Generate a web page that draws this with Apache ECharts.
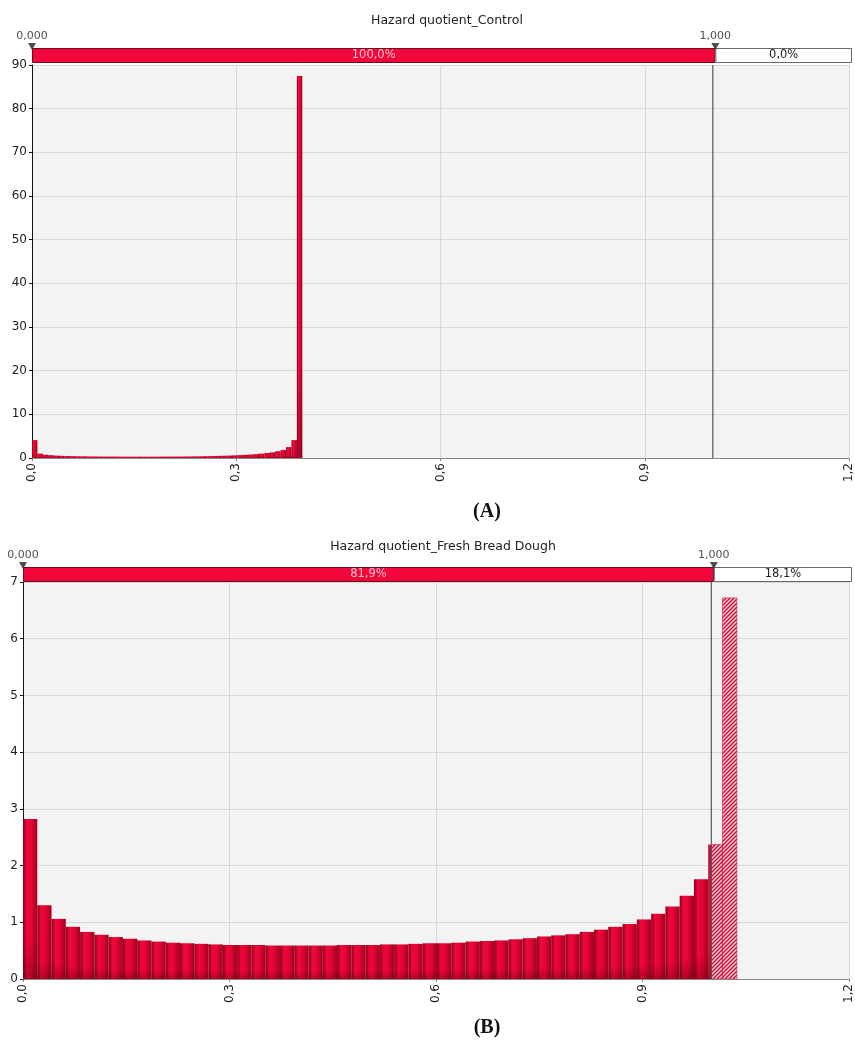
<!DOCTYPE html>
<html><head><meta charset="utf-8">
<script src="https://cdn.jsdelivr.net/npm/echarts@6/dist/echarts.min.js"></script>
<style>html,body{margin:0;padding:0;background:#fff}#c{width:855px;height:1040px}</style>
</head><body><div id="c"></div>
<script>
// ---------- DATA ----------
const xTicks = [0, 0.3, 0.6, 0.9, 1.2];
const titleA = 'Hazard quotient_Control';
const thresholdA = 1.0;
const pctBelowA = 100.0;
const pctAboveA = 0.0;
const binWidthA = 0.00794;
const valuesA = [4.1, 1.0, 0.75, 0.65, 0.55, 0.5, 0.45, 0.42, 0.4, 0.38,
  0.36, 0.35, 0.34, 0.33, 0.33, 0.32, 0.32, 0.31, 0.31, 0.31,
  0.31, 0.31, 0.31, 0.32, 0.32, 0.33, 0.33, 0.34, 0.35, 0.36,
  0.38, 0.40, 0.42, 0.45, 0.48, 0.52, 0.56, 0.6, 0.66, 0.72,
  0.8, 0.9, 1.0, 1.15, 1.3, 1.55, 1.85, 2.5, 4.1, 87.5];
const yMaxA = 90, yStepA = 10;

const titleB = 'Hazard quotient_Fresh Bread Dough';
const thresholdB = 1.0;
const pctBelowB = 81.9;
const pctAboveB = 18.1;
const binWidthB = 0.02074;
const valuesB = [2.82, 1.30, 1.06, 0.92, 0.83, 0.78, 0.74, 0.71, 0.68, 0.66,
  0.64, 0.63, 0.62, 0.61, 0.60, 0.60, 0.60, 0.59, 0.59, 0.59,
  0.59, 0.59, 0.60, 0.60, 0.60, 0.61, 0.61, 0.62, 0.63, 0.63,
  0.64, 0.66, 0.67, 0.68, 0.70, 0.72, 0.75, 0.77, 0.79, 0.83,
  0.87, 0.92, 0.97, 1.05, 1.15, 1.28, 1.47, 1.76, 2.37, 6.72];
const yMaxB = 7, yStepB = 1;
const xMax = 1.2;

// ---------- HELPERS ----------
const FONT = "'DejaVu Sans', Verdana, sans-serif";
const comma = (s) => String(s).replace('.', ',');
const pct = (p) => comma(p.toFixed(1)) + '%';
const bins = (vals, w) => vals.map((v, i) => [i * w, (i + 1) * w, v]);

const barGrad = new echarts.graphic.LinearGradient(0, 0, 1, 0, [
  {offset: 0, color: '#8a0019'}, {offset: 0.28, color: '#f2073b'},
  {offset: 0.6, color: '#e00532'}, {offset: 1, color: '#a3001f'}]);
const shade = new echarts.graphic.LinearGradient(0, 0, 0, 1, [
  {offset: 0, color: 'rgba(40,0,0,0)'}, {offset: 0.75, color: 'rgba(40,0,0,0)'},
  {offset: 1, color: 'rgba(40,0,0,0.28)'}]);

const pc = document.createElement('canvas'); pc.width = 4; pc.height = 4;
const cx = pc.getContext('2d');
cx.fillStyle = '#f7d6dc'; cx.fillRect(0, 0, 4, 4);
cx.strokeStyle = '#d20f37'; cx.lineWidth = 1.5; cx.beginPath();
cx.moveTo(0, 4); cx.lineTo(4, 0); cx.moveTo(-1, 1); cx.lineTo(1, -1);
cx.moveTo(3, 5); cx.lineTo(5, 3); cx.stroke();
const hatch = {image: pc, repeat: 'repeat'};

function makeRender(threshold) {
  return function (params, api) {
    const x0 = api.value(0), x1 = api.value(1), v = api.value(2);
    const ch = [];
    const sEnd = Math.min(x1, threshold);
    if (sEnd > x0) {
      const a = api.coord([x0, v]), b = api.coord([sEnd, 0]);
      const shape = {x: a[0], y: a[1], width: b[0] - a[0], height: b[1] - a[1]};
      ch.push({type: 'rect', shape, style: {fill: barGrad}});
      ch.push({type: 'rect', shape, style: {fill: shade}});
    }
    const hStart = Math.max(x0, threshold);
    if (x1 > hStart) {
      const a = api.coord([hStart, v]), b = api.coord([x1, 0]);
      ch.push({type: 'rect', shape: {x: a[0], y: a[1], width: b[0] - a[0], height: b[1] - a[1]},
        style: {fill: hatch, stroke: '#d20f37', lineWidth: 0.6}});
    }
    return {type: 'group', children: ch};
  };
}

const grids = [
  {left: 32, top: 48, width: 820, height: 15},
  {left: 32, top: 65, width: 820, height: 393, show: true, backgroundColor: '#f3f3f3', borderWidth: 0},
  {left: 23, top: 567, width: 829, height: 15},
  {left: 23, top: 582, width: 829, height: 397, show: true, backgroundColor: '#f3f3f3', borderWidth: 0}
];

function hdrX(i) {
  return {gridIndex: i, type: 'value', min: 0, max: xMax, show: false};
}
function hdrY(i) {
  return {gridIndex: i, type: 'category', data: ['p'], show: false};
}
function mainX(i) {
  return {gridIndex: i, type: 'value', min: 0, max: xMax, interval: 0.3,
    axisLine: {show: true, lineStyle: {color: '#888'}},
    axisTick: {show: true, length: 3, lineStyle: {color: '#888'}},
    splitLine: {show: true, lineStyle: {color: '#d8d8d8'}},
    axisLabel: {rotate: 90, fontSize: 12, color: '#222', margin: 5, fontFamily: FONT,
      formatter: (v) => comma(v.toFixed(1))}};
}
function mainY(i, max, step) {
  return {gridIndex: i, type: 'value', min: 0, max: max, interval: step,
    axisLine: {show: true, lineStyle: {color: '#111'}},
    axisTick: {show: true, length: 3, lineStyle: {color: '#111'}},
    splitLine: {show: true, lineStyle: {color: '#d8d8d8'}},
    axisLabel: {fontSize: 12, color: '#222', margin: 5, fontFamily: FONT}};
}

function header(ax, threshold, below, above) {
  return [
    {type: 'bar', xAxisIndex: ax, yAxisIndex: ax, stack: 'h' + ax, data: [threshold], barWidth: '100%',
      silent: true, itemStyle: {color: '#f3063a', borderColor: '#6e0a1c', borderWidth: 1},
      label: {show: true, position: 'inside', formatter: pct(below), color: '#ffc6d0', fontSize: 11.5, fontFamily: FONT}},
    {type: 'bar', xAxisIndex: ax, yAxisIndex: ax, stack: 'h' + ax, data: [xMax - threshold], barWidth: '100%',
      silent: true, itemStyle: {color: '#ffffff', borderColor: '#666', borderWidth: 1},
      label: {show: true, position: 'inside', formatter: pct(above), color: '#222', fontSize: 11.5, fontFamily: FONT}},
    {type: 'scatter', xAxisIndex: ax, yAxisIndex: ax, data: [[0, 'p'], [threshold, 'p']],
      symbol: 'triangle', symbolRotate: 180, symbolSize: [8, 7], symbolOffset: [0, -9], z: 5,
      itemStyle: {color: '#222'},
      label: {show: true, position: 'top', distance: 1, color: '#222', fontSize: 11, fontFamily: FONT,
        formatter: (p) => comma(p.value[0].toFixed(3))}}
  ];
}

function hist(ax, vals, w, threshold, ymax) {
  return [
    {type: 'custom', xAxisIndex: ax, yAxisIndex: ax, data: bins(vals, w), clip: true,
      encode: {x: [0, 1], y: 2}, renderItem: makeRender(threshold), silent: true},
    {type: 'line', xAxisIndex: ax, yAxisIndex: ax, data: [[threshold, 0], [threshold, ymax]],
      symbol: 'none', silent: true, z: 4, lineStyle: {color: '#555', width: 1.2}}
  ];
}

const option = {
  animation: false,
  backgroundColor: '#fff',
  title: [
    {text: titleA, left: 442, textAlign: 'center', top: 9, textStyle: {fontSize: 12.5, fontWeight: 'normal', color: '#222', fontFamily: FONT}},
    {text: '(A)', left: 482, textAlign: 'center', top: 497, textStyle: {fontSize: 20, fontWeight: 'bold', color: '#111', fontFamily: "'Liberation Serif', 'Times New Roman', serif"}},
    {text: titleB, left: 438, textAlign: 'center', top: 535, textStyle: {fontSize: 12.5, fontWeight: 'normal', color: '#222', fontFamily: FONT}},
    {text: '(B)', left: 482, textAlign: 'center', top: 1013, textStyle: {fontSize: 20, fontWeight: 'bold', color: '#111', fontFamily: "'Liberation Serif', 'Times New Roman', serif"}}
  ],
  grid: grids,
  xAxis: [hdrX(0), mainX(1), hdrX(2), mainX(3)],
  yAxis: [hdrY(0), mainY(1, yMaxA, yStepA), hdrY(2), mainY(3, yMaxB, yStepB)],
  series: [].concat(
    header(0, thresholdA, pctBelowA, pctAboveA),
    hist(1, valuesA, binWidthA, thresholdA, yMaxA),
    header(2, thresholdB, pctBelowB, pctAboveB),
    hist(3, valuesB, binWidthB, thresholdB, yMaxB)
  )
};
const chart = echarts.init(document.getElementById('c'), null, {renderer: 'canvas'});
chart.setOption(option);
</script></body></html>
